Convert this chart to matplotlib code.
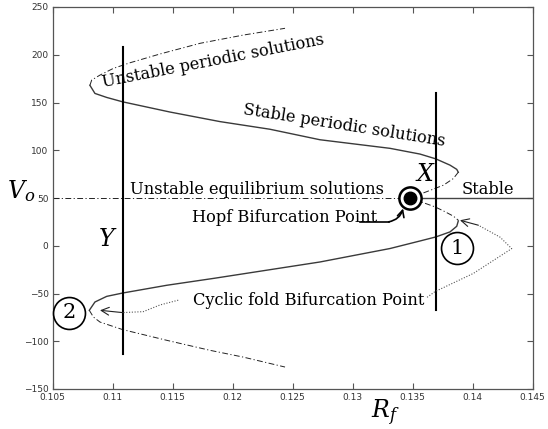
import matplotlib
matplotlib.use("Agg")
import matplotlib.pyplot as plt

plt.rcParams['mathtext.fontset'] = 'dejavuserif'

# ---------------- data ----------------
# upper stable periodic branch (solid)
up_stable_x = [0.1081, 0.10852, 0.1095, 0.11083, 0.11478, 0.11894, 0.1231, 0.12727, 0.13311, 0.13561, 0.13692, 0.13811, 0.13867, 0.1388]
up_stable_y = [168, 159.5, 155.3, 150.7, 140, 130, 122, 111, 102, 96, 91, 84.4, 80, 77]
# upper unstable periodic branch (dash-dot)
up_unst_x = [0.1081, 0.10825, 0.10894, 0.11005, 0.11144, 0.1140, 0.11729, 0.12088, 0.12436]
up_unst_y = [168, 173.5, 178.7, 185.7, 191.6, 201, 212, 220.6, 227.7]
# lower stable periodic branch (solid)
lo_stable_x = [0.10805, 0.10852, 0.1095, 0.11083, 0.1145, 0.1185, 0.12727, 0.13311, 0.13561, 0.13692, 0.13811, 0.13867, 0.1388]
lo_stable_y = [-67.6, -58.9, -53, -49.5, -41.4, -34, -17, -2.9, 5, 9.2, 14.5, 20.4, 26]
# lower unstable periodic branch (dash-dot)
lo_unst_x = [0.10805, 0.10839, 0.10894, 0.11083, 0.1145, 0.11811, 0.12088, 0.12436]
lo_unst_y = [-67.6, -74.6, -79.9, -87.8, -99, -109.5, -116.6, -127]
# unstable periodic branch born at the Hopf point (dash-dot)
hopf_br_x = [0.1388, 0.13839, 0.13756, 0.13686, 0.1348, 0.13686, 0.13756, 0.13839, 0.1388]
hopf_br_y = [77, 70.4, 63.4, 60, 50, 40.7, 36.5, 31, 26.7]

# equilibrium line
eq_y = 50
eq_x_start, hopf_x, eq_x_end = 0.105, 0.1348, 0.145

# vertical lines X and Y
lineY_x, lineY_y = 0.11083, [208, -113]
lineX_x, lineX_y = 0.13692, [160, -67.6]

# dotted arrows (cyclic fold pointers)
arr1_x = [0.1362, 0.13686, 0.14005, 0.14325, 0.14228, 0.14047, 0.13894]
arr1_y = [-54, -48, -29, -3, 9, 21.5, 26.7]
arr2_x = [0.11546, 0.11394, 0.11255, 0.11083, 0.10894]
arr2_y = [-57, -62, -69, -70, -67.6]

# hopf arrow
hopf_arr_x = [0.1306, 0.1330, 0.1342]
hopf_arr_y = [25, 25, 39]

circ1 = (0.13872, -2.7)
circ2 = (0.10636, -70)

xticks = [0.105, 0.11, 0.115, 0.12, 0.125, 0.13, 0.135, 0.14, 0.145]
xticklabels = ['0.105', '0.11', '0.115', '0.12', '0.125', '0.13', '0.135', '0.14', '0.145']
yticks = [-150, -100, -50, 0, 50, 100, 150, 200, 250]
yticklabels = ['\u2212150', '\u2212100', '\u221250', '0', '50', '100', '150', '200', '250']

# ---------------- figure ----------------
fig = plt.figure(figsize=(5.48, 4.29), dpi=100)
ax = fig.add_axes([52.7 / 548, 40 / 429, 480 / 548, 382 / 429])
ax.set_xlim(0.105, 0.145)
ax.set_ylim(-150, 250)

dashdot = (0, (6, 2.5, 1.2, 2.5))
solid_c = '#3a3a3a'

ax.plot(up_stable_x, up_stable_y, color=solid_c, lw=1.0)
ax.plot(lo_stable_x, lo_stable_y, color=solid_c, lw=1.0)
ax.plot(up_unst_x, up_unst_y, color='#222222', lw=0.7, ls=dashdot)
ax.plot(lo_unst_x, lo_unst_y, color='#222222', lw=0.7, ls=dashdot)
ax.plot(hopf_br_x, hopf_br_y, color='#222222', lw=0.7, ls=dashdot)

ax.plot([eq_x_start, hopf_x], [eq_y, eq_y], color='#222222', lw=0.7, ls=dashdot)
ax.plot([hopf_x, eq_x_end], [eq_y, eq_y], color='#444444', lw=1.0)

ax.plot([lineY_x, lineY_x], lineY_y, color='black', lw=1.5)
ax.plot([lineX_x, lineX_x], lineX_y, color='black', lw=1.5)

# dotted arrows
ax.plot(arr1_x[:-1], arr1_y[:-1], color='#555555', lw=0.8, ls=(0, (1, 1.5)))
ax.annotate('', xy=(arr1_x[-1], arr1_y[-1]), xytext=(arr1_x[-2], arr1_y[-2]),
            arrowprops=dict(arrowstyle='->', color='#222222', lw=0.8,
                            mutation_scale=14, shrinkA=0, shrinkB=0))
ax.plot(arr2_x[:-1], arr2_y[:-1], color='#555555', lw=0.8, ls=(0, (1, 1.5)))
ax.annotate('', xy=(arr2_x[-1], arr2_y[-1]), xytext=(arr2_x[-2], arr2_y[-2]),
            arrowprops=dict(arrowstyle='->', color='#222222', lw=0.8,
                            mutation_scale=14, shrinkA=0, shrinkB=0))

# hopf arrow
ax.plot(hopf_arr_x[:2], hopf_arr_y[:2], color='black', lw=1.2)
ax.annotate('', xy=(hopf_arr_x[2], hopf_arr_y[2]), xytext=(hopf_arr_x[1], hopf_arr_y[1]),
            arrowprops=dict(arrowstyle='->', color='black', lw=1.2,
                            mutation_scale=12, shrinkA=0, shrinkB=0,
                            connectionstyle='arc3,rad=0.3'))

# Hopf point marker
ax.plot([hopf_x], [eq_y], marker='o', ms=16, mfc='white', mec='black', mew=1.8, zorder=5)
ax.plot([hopf_x], [eq_y], marker='o', ms=9, mfc='black', mec='black', zorder=6)

# circled numbers
for (cx, cy), lab in [(circ1, '1'), (circ2, '2')]:
    ax.plot([cx], [cy], marker='o', ms=23, mfc='white', mec='black', mew=1.2,
            zorder=5, clip_on=False)
    ax.text(cx, cy, lab, fontsize=15, family='DejaVu Serif', ha='center',
            va='center', zorder=6)

serif = 'DejaVu Serif'
fs = 11.7
ax.text(0.11837, 193.4, 'Unstable periodic solutions', family=serif, fontsize=fs,
        rotation=11, ha='center', va='center', rotation_mode='anchor')
ax.text(0.12928, 126.3, 'Stable periodic solutions', family=serif, fontsize=fs,
        rotation=-9, ha='center', va='center', rotation_mode='anchor')
ax.text(0.11144, 54.5, 'Unstable equilibrium solutions', family=serif, fontsize=fs,
        ha='left', va='baseline')
ax.text(0.11658, 25, 'Hopf Bifurcation Point', family=serif, fontsize=fs,
        ha='left', va='baseline')
ax.text(0.13908, 54, 'Stable', family=serif, fontsize=fs, ha='left', va='baseline')
ax.text(0.1167, -62.4, 'Cyclic fold Bifurcation Point', family=serif, fontsize=fs,
        ha='left', va='baseline')
ax.text(0.13604, 75.5, '$X$', fontsize=17, ha='center', va='center')
ax.text(0.10955, 7, '$Y$', fontsize=17, ha='center', va='center')

fig.text(21 / 548, 1 - 191 / 429, '$V_o$', fontsize=17, ha='center', va='center')
fig.text(385 / 548, 1 - 413 / 429, '$R_f$', fontsize=17, ha='center', va='center')

ax.set_xticks(xticks)
ax.set_xticklabels(xticklabels)
ax.set_yticks(yticks)
ax.set_yticklabels(yticklabels)
ax.tick_params(direction='in', length=4, width=0.8, top=True, right=True,
               labelsize=6.5, labelcolor='#333333', color='#555555', pad=3)
for sp in ax.spines.values():
    sp.set_color('#555555')
    sp.set_linewidth(0.9)

fig.savefig('out.png', dpi=100)
